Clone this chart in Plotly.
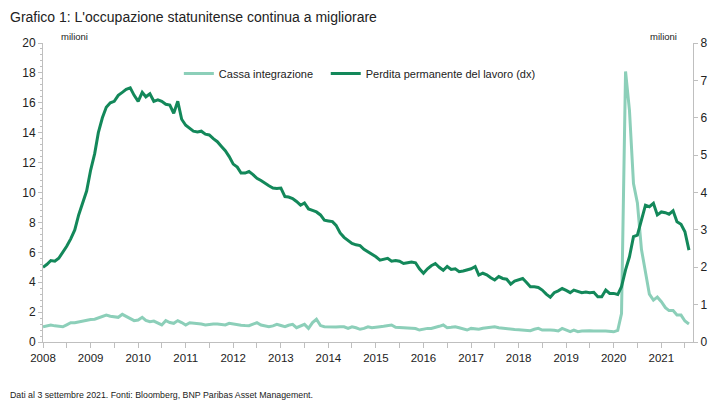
import pandas as pd
import plotly.graph_objects as go

# Monthly dates, Jan 2008 - Aug 2021
dates = pd.date_range("2008-01-01", "2021-08-01", freq="MS").strftime("%Y-%m-%d").tolist()

# Cassa integrazione (temporary layoffs), millions, left axis
cassa = [
    1.02, 1.10, 1.14, 1.08, 1.07, 1.02, 1.15, 1.29, 1.29, 1.35, 1.42, 1.47,  # 2008
    1.50, 1.52, 1.60, 1.69, 1.80, 1.72, 1.69, 1.65, 1.85, 1.70, 1.58, 1.43,  # 2009
    1.47, 1.65, 1.45, 1.36, 1.40, 1.25, 1.14, 1.43, 1.30, 1.25, 1.43, 1.30,  # 2010
    1.14, 1.29, 1.27, 1.25, 1.20, 1.14, 1.18, 1.20, 1.20, 1.15, 1.14, 1.25,  # 2011
    1.20, 1.14, 1.12, 1.10, 1.09, 1.20, 1.29, 1.14, 1.10, 1.02, 1.08, 1.18,  # 2012
    1.10, 1.02, 1.12, 1.18, 0.96, 1.10, 1.18, 0.91, 1.30, 1.52, 1.10, 1.02,  # 2013
    1.00, 0.98, 1.00, 1.02, 1.02, 0.91, 1.02, 0.95, 0.85, 0.91, 1.02, 0.95,  # 2014
    0.96, 1.02, 1.05, 1.10, 1.14, 0.98, 0.96, 0.95, 0.91, 0.93, 0.90, 0.80,  # 2015
    0.88, 0.91, 0.90, 1.00, 1.05, 1.14, 0.96, 0.98, 1.02, 0.95, 0.90, 0.80,  # 2016
    0.91, 0.90, 0.85, 0.92, 0.95, 0.98, 1.02, 0.95, 0.91, 0.88, 0.85, 0.83,  # 2017
    0.82, 0.80, 0.78, 0.76, 0.85, 0.91, 0.80, 0.82, 0.80, 0.78, 0.74, 0.91,  # 2018
    0.80, 0.69, 0.80, 0.69, 0.73, 0.76, 0.75, 0.74, 0.76, 0.74, 0.74, 0.70,  # 2019
    0.68, 0.78, 1.90, 18.10, 15.50, 10.60, 9.30, 6.20, 4.60, 3.20, 2.80, 3.00,  # 2020
    2.70, 2.30, 2.10, 2.10, 1.80, 1.80, 1.40, 1.20,  # 2021
]

# Perdita permanente del lavoro (permanent job losers), millions, right axis
perdita = [
    2.00, 2.08, 2.18, 2.16, 2.24, 2.40, 2.56, 2.76, 3.00, 3.40, 3.76, 4.04,  # 2008
    4.60, 5.04, 5.60, 6.00, 6.28, 6.40, 6.44, 6.60, 6.68, 6.76, 6.80, 6.60,  # 2009
    6.44, 6.68, 6.56, 6.64, 6.44, 6.48, 6.44, 6.36, 6.34, 6.12, 6.44, 5.96,  # 2010
    5.80, 5.72, 5.64, 5.62, 5.64, 5.56, 5.54, 5.44, 5.36, 5.24, 5.12, 4.96,  # 2011
    4.76, 4.68, 4.52, 4.52, 4.56, 4.48, 4.38, 4.32, 4.24, 4.18, 4.12, 4.11,  # 2012
    4.12, 3.89, 3.88, 3.84, 3.76, 3.66, 3.72, 3.56, 3.52, 3.48, 3.40, 3.26,  # 2013
    3.24, 3.22, 3.12, 2.92, 2.80, 2.72, 2.64, 2.60, 2.58, 2.48, 2.42, 2.36,  # 2014
    2.28, 2.19, 2.22, 2.24, 2.16, 2.18, 2.16, 2.10, 2.12, 2.14, 2.12, 1.96,  # 2015
    1.84, 1.96, 2.04, 2.10, 2.00, 1.92, 2.02, 1.94, 1.96, 1.88, 1.90, 1.93,  # 2016
    1.96, 2.02, 1.79, 1.84, 1.80, 1.72, 1.66, 1.75, 1.70, 1.68, 1.55, 1.63,  # 2017
    1.66, 1.70, 1.60, 1.48, 1.48, 1.46, 1.39, 1.28, 1.20, 1.32, 1.37, 1.43,  # 2018
    1.38, 1.32, 1.39, 1.35, 1.32, 1.34, 1.32, 1.33, 1.21, 1.21, 1.39, 1.30,  # 2019
    1.30, 1.27, 1.48, 1.93, 2.28, 2.82, 2.86, 3.26, 3.66, 3.62, 3.71, 3.40,  # 2020
    3.48, 3.46, 3.42, 3.51, 3.22, 3.15, 2.95, 2.46,  # 2021
]

name_cassa = "Cassa integrazione"
name_perdita = "Perdita permanente del lavoro (dx)"
title_text = "Grafico 1: L'occupazione statunitense continua a migliorare"
footer_text = "Dati al 3 settembre 2021. Fonti: Bloomberg, BNP Paribas Asset Management."
unit_text = "milioni"

LIGHT = "#8ccfb9"
DARK = "#13885a"
FONT = "Liberation Sans, Arial, sans-serif"

# plot area in figure pixels
L, T, PW, PH = 35, 35, 650, 299
W, H = 717, 403

fig = go.Figure()
fig.add_trace(go.Scatter(x=dates, y=cassa, name=name_cassa, mode="lines",
                         line=dict(color=LIGHT, width=3), yaxis="y", legend="legend"))
fig.add_trace(go.Scatter(x=dates, y=perdita, name=name_perdita, mode="lines",
                         line=dict(color=DARK, width=3), yaxis="y2", legend="legend2"))

axis_col = "#bfbfbf"
leg_common = dict(orientation="h", yanchor="middle", xanchor="left",
                  font=dict(size=11), bgcolor="rgba(0,0,0,0)", itemwidth=30)
fig.update_layout(
    width=W, height=H,
    margin=dict(l=L, r=W - L - PW, t=T, b=H - T - PH),
    paper_bgcolor="white", plot_bgcolor="white",
    font=dict(family=FONT, size=12, color="#222222"),
    showlegend=True,
    legend=dict(x=0.209, y=0.898, **leg_common),
    legend2=dict(x=0.435, y=0.898, **leg_common),
    xaxis=dict(
        type="date", range=["2008-01-01", "2021-09-01"],
        dtick="M12", tick0="2008-01-01", tickformat="%Y",
        ticks="outside", ticklen=5, tickcolor=axis_col,
        showline=True, linecolor=axis_col, linewidth=1,
        showgrid=False, zeroline=False,
        minor=dict(dtick="M6", tick0="2008-01-01", ticks="outside", ticklen=5, tickcolor=axis_col),
        tickfont=dict(size=11.5),
    ),
    yaxis=dict(
        range=[0, 20], dtick=2, ticks="outside", ticklen=4, tickcolor=axis_col,
        showline=True, linecolor=axis_col, linewidth=1,
        showgrid=False, zeroline=False,
        minor=dict(dtick=0.4, ticks="outside", ticklen=2, tickcolor=axis_col),
        tickfont=dict(size=12),
    ),
    yaxis2=dict(
        range=[0, 8], dtick=1, overlaying="y", side="right",
        ticks="outside", ticklen=4, tickcolor=axis_col,
        showline=True, linecolor=axis_col, linewidth=1,
        showgrid=False, zeroline=False,
        tickfont=dict(size=12),
    ),
    annotations=[
        dict(text=title_text, xref="paper", yref="paper", x=-L / PW, y=1 + (T - 9) / PH,
             xanchor="left", yanchor="middle", showarrow=False,
             font=dict(size=14, color="#222222")),
        dict(text=unit_text, xref="paper", yref="paper", x=16 / PW, y=1 + 7 / PH,
             xanchor="left", yanchor="middle", showarrow=False, font=dict(size=9.5)),
        dict(text=unit_text, xref="paper", yref="paper", x=636 / PW, y=1 + 7 / PH,
             xanchor="right", yanchor="middle", showarrow=False, font=dict(size=9.5)),
        dict(text=footer_text, xref="paper", yref="paper", x=-L / PW, y=-53 / PH,
             xanchor="left", yanchor="middle", showarrow=False, font=dict(size=8.8)),
    ],
)

fig.write_html("out.html")
